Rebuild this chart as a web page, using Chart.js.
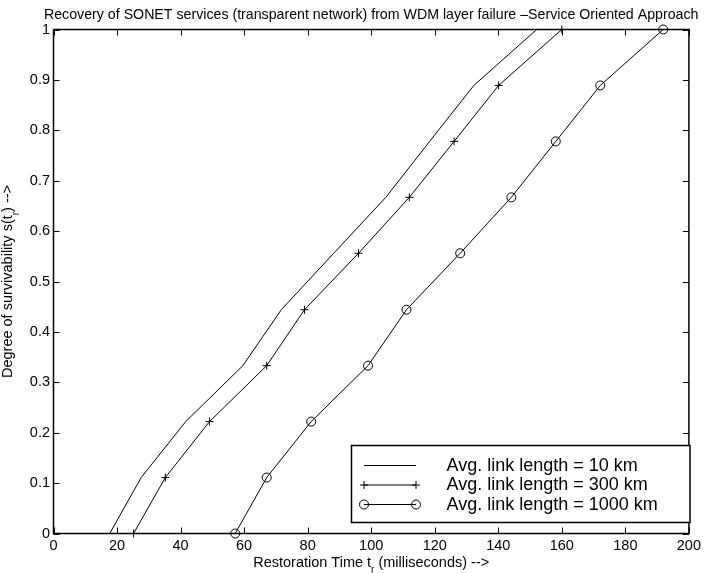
<!DOCTYPE html>
<html>
<head>
<meta charset="utf-8">
<title>Recovery of SONET services</title>
<script src="https://cdn.jsdelivr.net/npm/chart.js@4.4.0/dist/chart.umd.min.js"></script>
<style>
  html, body { margin: 0; padding: 0; background: #fff; }
  #wrap { position: relative; width: 705px; height: 573px; }
</style>
</head>
<body>
<div id="wrap"><canvas id="chart" width="705" height="573"></canvas></div>
<script>
// degree of survivability (y) shared by all three curves
const survivability = [0, 0.111, 0.222, 0.333, 0.444, 0.556, 0.667, 0.778, 0.889, 1];
// restoration time in ms (x)
const time10km = [17.7, 27.6, 41.6, 59.6, 71.7, 88.2, 104.6, 118.4, 132.3, 152.1];
const time300km = [25.2, 35.2, 49.1, 67.1, 79.0, 96.0, 112.0, 126.1, 140.1, 160.0];
const time1000km = [57.2, 67.1, 81.1, 99.0, 111.1, 128.0, 144.1, 158.1, 172.1, 191.9];

const seriesLabels = ['Avg. link length = 10 km', 'Avg. link length = 300 km', 'Avg. link length = 1000 km'];
const xTickValues = [0, 20, 40, 60, 80, 100, 120, 140, 160, 180, 200];
const xTickLabels = ['0', '20', '40', '60', '80', '100', '120', '140', '160', '180', '200'];
const yTickValues = [0, 0.1, 0.2, 0.3, 0.4, 0.5, 0.6, 0.7, 0.8, 0.9, 1];
const yTickLabels = ['0', '0.1', '0.2', '0.3', '0.4', '0.5', '0.6', '0.7', '0.8', '0.9', '1'];

const titleText = 'Recovery of SONET services (transparent network) from WDM layer failure \u2013Service Oriented Approach';
const xLabelParts = [['Restoration Time t', false], ['r', true], [' (milliseconds) -->', false]];
const yLabelParts = [['Degree of survivability s(t', false], ['r', true], [') -->', false]];

const FONT = '"Liberation Sans", Arial, Helvetica, sans-serif';

const toPoints = xs => xs.map((x, i) => ({ x: x, y: survivability[i] }));

// text with a lowered subscript, centred on cx
function drawParts(ctx, parts, cx, baseline) {
  const widths = parts.map(([t, sub]) => {
    ctx.font = (sub ? '10px ' : '14.5px ') + FONT;
    return ctx.measureText(t).width;
  });
  let x = cx - widths.reduce((a, b) => a + b, 0) / 2;
  parts.forEach(([t, sub], i) => {
    ctx.font = (sub ? '10px ' : '14.5px ') + FONT;
    ctx.fillText(t, x, baseline + (sub ? 6.5 : 0));
    x += widths[i];
  });
}

function drawMarker(ctx, style, x, y) {
  ctx.beginPath();
  if (style === 'cross') {
    ctx.moveTo(x - 4, y); ctx.lineTo(x + 4, y);
    ctx.moveTo(x, y - 4); ctx.lineTo(x, y + 4);
  } else if (style === 'circle') {
    ctx.arc(x, y, 4.5, 0, Math.PI * 2);
  }
  ctx.stroke();
}

const matlabAxes = {
  id: 'matlabAxes',
  afterDraw(chart) {
    const { ctx, chartArea: a, scales: { x, y } } = chart;
    ctx.save();
    ctx.strokeStyle = '#000';
    ctx.fillStyle = '#000';

    // box
    ctx.lineWidth = 1.5;
    ctx.strokeRect(a.left, a.top, a.right - a.left, a.bottom - a.top);

    // inward ticks on all four sides
    ctx.lineWidth = 1;
    ctx.beginPath();
    xTickValues.forEach(v => {
      const px = Math.round(x.getPixelForValue(v)) + 0.5;
      ctx.moveTo(px, a.bottom); ctx.lineTo(px, a.bottom - 6);
      ctx.moveTo(px, a.top); ctx.lineTo(px, a.top + 6);
    });
    yTickValues.forEach(v => {
      const py = Math.round(y.getPixelForValue(v)) + 0.5;
      ctx.moveTo(a.left, py); ctx.lineTo(a.left + 6, py);
      ctx.moveTo(a.right, py); ctx.lineTo(a.right - 6, py);
    });
    ctx.stroke();

    // title
    ctx.font = '14.2px ' + FONT;
    ctx.textAlign = 'left';
    ctx.textBaseline = 'alphabetic';
    const tw = ctx.measureText(titleText).width;
    ctx.fillText(titleText, (a.left + a.right) / 2 - tw / 2, 19);

    // axis labels
    drawParts(ctx, xLabelParts, (a.left + a.right) / 2, 566.5);
    ctx.save();
    ctx.translate(12, (a.top + a.bottom) / 2);
    ctx.rotate(-Math.PI / 2);
    drawParts(ctx, yLabelParts, 0, 0);
    ctx.restore();

    // legend box
    const lx = 351.5, ly = 445.5, lw = 338.5, lh = 77;
    ctx.fillStyle = '#fff';
    ctx.fillRect(lx, ly, lw, lh);
    ctx.lineWidth = 1.5;
    ctx.strokeRect(lx, ly, lw, lh);
    ctx.fillStyle = '#000';
    ctx.font = '18px ' + FONT;
    ctx.textBaseline = 'middle';
    const rows = [465, 484.5, 504];
    chart.data.datasets.forEach((ds, i) => {
      const ry = rows[i] + 0.5;
      ctx.lineWidth = 1;
      ctx.beginPath();
      ctx.moveTo(364, ry); ctx.lineTo(416, ry);
      ctx.stroke();
      if (ds.pointRadius > 0) {
        drawMarker(ctx, ds.pointStyle, 364, ry);
        drawMarker(ctx, ds.pointStyle, 416, ry);
      }
      ctx.fillText(ds.label, 446.5, rows[i] + 1);
    });
    ctx.restore();
  }
};

const ctx = document.getElementById('chart').getContext('2d');
new Chart(ctx, {
  type: 'line',
  data: {
    datasets: [
      {
        label: seriesLabels[0],
        data: toPoints(time10km),
        borderColor: '#000',
        borderWidth: 1,
        pointRadius: 0,
        tension: 0,
        clip: false,
      },
      {
        label: seriesLabels[1],
        data: toPoints(time300km),
        borderColor: '#000',
        borderWidth: 1,
        pointStyle: 'cross',
        pointRadius: 4,
        pointBorderColor: '#000',
        pointBorderWidth: 1,
        tension: 0,
        clip: false,
      },
      {
        label: seriesLabels[2],
        data: toPoints(time1000km),
        borderColor: '#000',
        borderWidth: 1,
        pointStyle: 'circle',
        pointRadius: 4.5,
        pointBorderColor: '#000',
        pointBackgroundColor: 'rgba(0,0,0,0)',
        pointBorderWidth: 1,
        tension: 0,
        clip: false,
      },
    ],
  },
  options: {
    responsive: false,
    animation: false,
    events: [],
    layout: { padding: { left: 0, top: 29.5, right: 12.5, bottom: 14.5 } },
    plugins: { legend: { display: false }, tooltip: { enabled: false }, title: { display: false } },
    scales: {
      x: {
        type: 'linear',
        min: 0,
        max: 200,
        afterBuildTicks: s => { s.ticks = xTickValues.map(v => ({ value: v })); },
        afterFit: s => { s.height = 25; },
        grid: { display: false, drawTicks: false },
        border: { display: false },
        ticks: {
          autoSkip: false,
          maxRotation: 0,
          padding: 4,
          color: '#000',
          font: { family: FONT, size: 14.5 },
          callback: (v, i) => xTickLabels[i],
        },
      },
      y: {
        type: 'linear',
        min: 0,
        max: 1,
        afterBuildTicks: s => { s.ticks = yTickValues.map(v => ({ value: v })); },
        afterFit: s => { s.width = 53.5; },
        grid: { display: false, drawTicks: false },
        border: { display: false },
        ticks: {
          autoSkip: false,
          padding: 3.5,
          color: '#000',
          font: { family: FONT, size: 14.5 },
          callback: (v, i) => yTickLabels[i],
        },
      },
    },
  },
  plugins: [matlabAxes],
});
</script>
</body>
</html>
